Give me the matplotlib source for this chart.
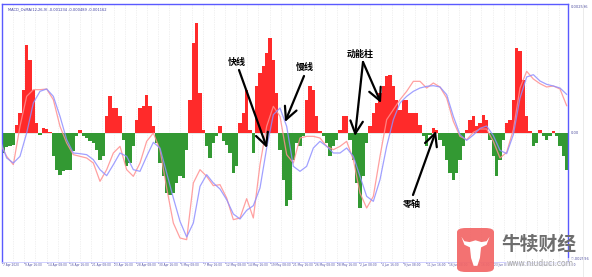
import numpy as np
import matplotlib
matplotlib.use("Agg")
import matplotlib.pyplot as plt
from matplotlib.patches import FancyBboxPatch, Polygon

# ---------------- data (MACD units: raw value * SCALE) ----------------
SCALE = 0.002596 / 387.0

hist = [-60, -42, -38, -35, 25, 60, 130, 265, 220, 130, 30, -5, 15, 12, 3, -70, -110, -125, -115, -110,
        -110, -55, -10, 10, -10, -15, -25, -30, -50, -80, -70, 50, 110, 75, 75, 50, -20, -100, -90, -40,
        40, 75, 80, 115, 80, 20, -30, -90, -130, -180, -185, -180, -150, -130, -135, -50, 100, 270, 330, 120,
        10, -40, -75, -30, -10, 20, -25, -35, -60, -120, -100, 30, 60, 130, 10, -60, 140, 180, 200, 240,
        285, 220, 120, -50, -140, -220, -200, -80, -30, -40, -10, 100, 140, 130, 50, 5, -10, -30, -70, -40,
        -20, 10, 50, 50, -20, -80, -150, -225, -130, -30, 20, 60, 90, 120, 140, 170, 175, 140, 100, 70,
        100, 100, 60, 60, 60, 25, -10, -40, -5, 15, 10, -20, -40, -80, -120, -140, -120, -80, -40, 10,
        40, 50, 20, 30, 55, 40, -20, -70, -130, -80, -20, 30, 40, 100, 255, 245, 160, 50, 5, -40,
        -30, 10, -10, -20, -10, 7, -10, -40, -70, -110]

fast_line = [-30, -70, -95, 20, 110, 130, 130, 132, 100, 20, -30, -65, -70, -75, -90, -145, -110, -60, -40, -110,
             -130, -90, -25, 0, -50, -165, -270, -315, -320, -150, -110, -130, -158, -155, -195, -260, -255, -197,
             -255, -95, 20, 80, 50, -65, -90, -15, -10, -10, -15, -40, -50, -40, -25, -80, -180, -225, -190, -70,
             40, 70, 100, 125, 155, 155, 135, 150, 138, 105, 35, -10, -20, 2, 12, 12, -25, -75, -58, 10, 135,
             185, 162, 148, 138, 141, 132, 82]

slow_line = [-20, -75, -90, -70, 0, 90, 125, 132, 110, 50, -20, -60, -62, -65, -80, -110, -128, -95, -60, -70,
             -110, -115, -70, -28, -45, -120, -195, -265, -312, -270, -160, -125, -150, -168, -200, -243, -258,
             -232, -218, -165, -45, 55, 75, 20, -100, -115, -100, -45, -25, -40, -60, -60, -45, -70, -130, -190,
             -205, -140, -40, 40, 90, 110, 125, 135, 140, 142, 138, 115, 50, -5, -22, -6, 14, 21, -8, -52, -62,
             -5, 105, 168, 175, 156, 146, 141, 135, 116]

date_labels = ["7 Apr 2020", "9 Apr 16:00", "14 Apr 08:00", "16 Apr 16:00", "21 Apr 08:00", "23 Apr 16:00",
               "28 Apr 08:00", "30 Apr 16:00", "5 May 08:00", "7 May 16:00", "12 May 08:00", "14 May 16:00",
               "19 May 08:00", "21 May 16:00", "26 May 08:00", "28 May 16:00", "2 Jun 08:00", "4 Jun 16:00",
               "9 Jun 08:00", "11 Jun 16:00", "16 Jun 08:00", "18 Jun 16:00", "23 Jun 08:00", "25 Jun 16:00",
               "30 Jun 08:00", "2 Jul 16:00"]

header_text = "MACD_OsMA(12,26,9) -0.001234 -0.000489 -0.001162"
price_labels = ["0.002596", "0.00", "-0.002596"]

# ---------------- figure ----------------
W, H = 592, 277
fig = plt.figure(figsize=(W / 100, H / 100), dpi=100)
ax = fig.add_axes([2 / W, 1 - 262 / H, 566 / W, 258 / H])

h = np.array(hist) * SCALE
xb = np.arange(1, len(h) + 1)
colors = np.where(h >= 0, "#ff2a2a", "#339933")
ax.bar(xb, h, width=0.95, color=colors, linewidth=0, zorder=2)

f = np.array(fast_line) * SCALE
s = np.array(slow_line) * SCALE
xl = np.arange(len(f)) * 2
ax.plot(xl, f, color="#ff9090", lw=0.9, alpha=0.85, zorder=3)
ax.plot(xl, s, color="#9090ff", lw=0.9, alpha=0.85, zorder=3)

ax.axhline(0, color="#dddddd", lw=0.5, zorder=1)

ymax = 387 * SCALE
ax.set_ylim(-ymax, ymax)
ax.set_xlim(0.6, 170.4)

# grid (dotted vertical lines)
step = 3.345
for k in range(1, 51):
    gx = 0.6 + k * step
    if gx < 170.4:
        ax.axvline(gx, color="#e3e3e3", lw=0.5, ls=(0, (1, 1.5)), zorder=0)

ax.set_xticks([])
ax.set_yticks([])
for sp in ["top", "left", "right"]:
    ax.spines[sp].set_color("#5a5aff")
    ax.spines[sp].set_linewidth(1.0)
ax.spines["bottom"].set_color("#c8c8ff")
ax.spines["bottom"].set_linewidth(0.6)

# date labels
for k, lab in enumerate(date_labels):
    gx = 0.6 + k * 2 * step
    if gx < 168:
        ax.text(gx + 0.3, -ymax - 4 * SCALE, lab, fontsize=2.1, color="#5050a0",
                ha="left", va="top", clip_on=False)
        ax.plot([gx, gx], [-ymax, -ymax - 4 * SCALE], color="#5050a0", lw=0.4, clip_on=False)

ax.text(0.01, 0.985, header_text, transform=ax.transAxes, fontsize=2.6, color="#4040a0",
        ha="left", va="top")

# right price scale labels
ax.text(1.005, 0.995, price_labels[0], transform=ax.transAxes, fontsize=2.6, color="#5050a0",
        ha="left", va="top")
ax.text(1.005, 0.5, price_labels[1], transform=ax.transAxes, fontsize=2.6, color="#5050a0",
        ha="left", va="center")
ax.text(1.005, 0.005, price_labels[2], transform=ax.transAxes, fontsize=2.6, color="#5050a0",
        ha="left", va="bottom")
fig.add_artist(plt.Line2D([583 / W, 583 / W], [0, 1 - 4 / H], color="#e8e8e8", lw=0.6))

# ---------------- annotations ----------------
cjk = ["Noto Sans CJK SC", "DejaVu Sans"]


def d(px, py):
    return (0.3 * px, 3 * (133 - py) * SCALE)


arrow = dict(arrowstyle="->,head_length=0.9,head_width=0.45", lw=1.6, color="black",
             mutation_scale=10, shrinkA=0, shrinkB=0)

ax.text(*d(237, 62), "快线", family=cjk, fontsize=6.5, fontweight="bold", ha="center", va="center", zorder=6)
ax.annotate("", xy=d(267, 148), xytext=d(239, 70), arrowprops=arrow, zorder=6)

ax.text(*d(305, 67), "慢线", family=cjk, fontsize=6.5, fontweight="bold", ha="center", va="center", zorder=6)
ax.annotate("", xy=d(285, 122), xytext=d(304, 76), arrowprops=arrow, zorder=6)

ax.text(*d(360, 54), "动能柱", family=cjk, fontsize=6.5, fontweight="bold", ha="center", va="center", zorder=6)
ax.annotate("", xy=d(355, 136), xytext=d(363, 62), arrowprops=arrow, zorder=6)
ax.annotate("", xy=d(381, 103), xytext=d(363, 62), arrowprops=arrow, zorder=6)

ax.text(*d(412, 205), "零轴", family=cjk, fontsize=6.5, fontweight="bold", ha="center", va="center", zorder=6)
ax.annotate("", xy=d(436, 131), xytext=d(413, 195), arrowprops=arrow, zorder=6)

# ---------------- watermark ----------------
lx0, lx1, ly0, ly1 = 457 / W, 494 / W, 1 - 272 / H, 1 - 228 / H
box = FancyBboxPatch((lx0, ly0), lx1 - lx0, ly1 - ly0, boxstyle="round,pad=0,rounding_size=0.015",
                     transform=fig.transFigure, facecolor="#f26666", edgecolor="none", alpha=0.92, zorder=10)
fig.add_artist(box)
bull = [(0.12, 0.80), (0.2, 0.62), (0.35, 0.56), (0.38, 0.32), (0.45, 0.14), (0.55, 0.14), (0.62, 0.32),
        (0.65, 0.56), (0.8, 0.62), (0.88, 0.80), (0.8, 0.70), (0.66, 0.68), (0.5, 0.72), (0.34, 0.68),
        (0.2, 0.70)]
bull_pts = [(lx0 + bx * (lx1 - lx0), ly0 + by * (ly1 - ly0)) for bx, by in bull]
fig.add_artist(Polygon(bull_pts, closed=True, transform=fig.transFigure, facecolor="white",
                       edgecolor="none", zorder=11))
fig.text(539 / W, 1 - 244 / H, "牛犊财经", family=cjk, fontsize=13.5, fontweight="bold",
         color="#6e6e6e", ha="center", va="center", zorder=10)
fig.text(540 / W, 1 - 263 / H, "www.niuduci.com", fontsize=5.5, color="#a8a8a8",
         ha="center", va="center", zorder=10,
         bbox=dict(facecolor="white", edgecolor="none", alpha=0.6, pad=0.5))

fig.savefig("out.png", dpi=100, facecolor="white")
